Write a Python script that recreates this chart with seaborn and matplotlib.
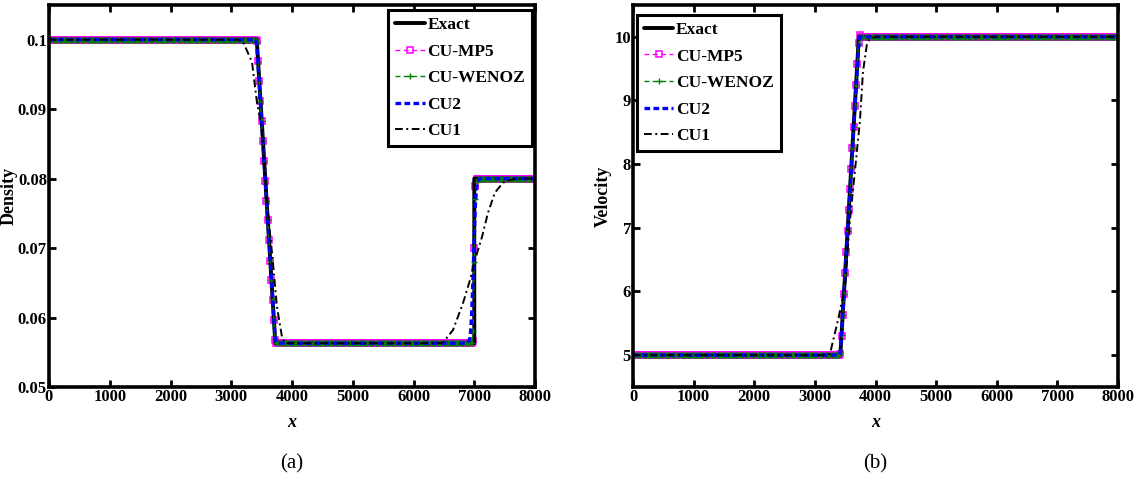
import numpy as np
import pandas as pd
import matplotlib
matplotlib.use("Agg")
import matplotlib.pyplot as plt
import seaborn as sns
from matplotlib.lines import Line2D

sns.set_style("ticks")
plt.rcParams['font.family'] = ['Liberation Serif', 'DejaVu Serif']
plt.rcParams['font.weight'] = 'bold'
for k in ['axes.edgecolor', 'xtick.color', 'ytick.color', 'text.color', 'axes.labelcolor']:
    plt.rcParams[k] = 'black'

# ---------------- data ----------------
dx = 20
x_grid = np.arange(0, 8000 + dx, dx)

# Exact solution (breakpoints)
exact_x_rho = [0, 3420, 3725, 7000, 7000, 8000]
exact_rho = [0.1, 0.1, 0.0563, 0.0563, 0.08, 0.08]
exact_x_u = [0, 3420, 3725, 8000]
exact_u = [5.0, 5.0, 10.0, 10.0]

rho_left, rho_mid, rho_right = 0.1, 0.0563, 0.08
u_left, u_right = 5.0, 10.0

# rarefaction values at x = 3420 ... 3740 (step 20)
rare_x = list(range(3420, 3741, 20))
mp5_rho_rare = [0.0998, 0.0969, 0.0940, 0.0912, 0.0883, 0.0854, 0.0826, 0.0797, 0.0768,
                0.0740, 0.0711, 0.0682, 0.0654, 0.0625, 0.0596, 0.0568, 0.0563]
wenoz_rho_rare = [0.0997, 0.0968, 0.0940, 0.0911, 0.0883, 0.0854, 0.0825, 0.0797, 0.0768,
                  0.0740, 0.0711, 0.0683, 0.0654, 0.0626, 0.0597, 0.0569, 0.0564]
cu2_rho_rare = [0.0993, 0.0966, 0.0938, 0.0910, 0.0882, 0.0854, 0.0825, 0.0797, 0.0769,
                0.0741, 0.0712, 0.0684, 0.0656, 0.0628, 0.0600, 0.0573, 0.0565]
mp5_u_rare = [5.02, 5.30, 5.63, 5.96, 6.29, 6.62, 6.95, 7.28, 7.61,
              7.93, 8.26, 8.59, 8.92, 9.25, 9.58, 9.90, 10.03]
wenoz_u_rare = [5.03, 5.31, 5.63, 5.96, 6.29, 6.62, 6.95, 7.28, 7.60,
                7.93, 8.26, 8.59, 8.91, 9.24, 9.57, 9.88, 10.0]
cu2_u_rare = [5.06, 5.33, 5.65, 5.97, 6.30, 6.62, 6.95, 7.27, 7.60,
              7.92, 8.25, 8.57, 8.89, 9.21, 9.53, 9.84, 9.99]

# contact values
mp5_contact_x = [6980, 7000, 7020, 7040]
mp5_rho_contact = [0.0566, 0.0700, 0.0790, 0.0799]
wenoz_contact_x = [6960, 6980, 7000, 7020, 7040, 7060]
wenoz_rho_contact = [0.0564, 0.0580, 0.0680, 0.0770, 0.0795, 0.0799]
cu2_contact_x = list(range(6900, 7101, 20))
cu2_rho_contact = [0.0565, 0.0568, 0.0580, 0.0610, 0.0660, 0.0720, 0.0765, 0.0788,
                   0.0796, 0.0799, 0.0800]

# CU1 (first-order) curve
cu1_x_rho = [0, 3100, 3193, 3341, 3424, 3506, 3588, 3671, 3753, 3835, 3885,
             6400, 6485, 6650, 6815, 6930, 7012, 7127, 7226, 7341, 7473, 7588, 7700, 8000]
cu1_rho = [0.1, 0.1, 0.0997, 0.0968, 0.0909, 0.0870, 0.0765, 0.0693, 0.0615, 0.0572, 0.0563,
           0.0563, 0.0564, 0.0582, 0.0621, 0.0654, 0.0683, 0.0716, 0.0751, 0.0780, 0.0794,
           0.0798, 0.0800, 0.0800]
cu1_x_u = [0, 3150, 3249, 3381, 3496, 3578, 3661, 3743, 3793, 3859, 3908, 4000, 8000]
cu1_u = [5.0, 5.0, 5.02, 5.55, 6.07, 7.12, 7.90, 8.68, 9.45, 9.89, 9.97, 10.0, 10.0]

rho_ticks = [0.05, 0.06, 0.07, 0.08, 0.09, 0.1]
rho_ticklabels = ["0.05", "0.06", "0.07", "0.08", "0.09", "0.1"]
u_ticks = [5, 6, 7, 8, 9, 10]
x_ticks = list(range(0, 8001, 1000))
names = ["Exact", "CU-MP5", "CU-WENOZ", "CU2", "CU1"]


def build_rho(rare, cx, cvals):
    v = np.full(x_grid.shape, rho_mid)
    v[x_grid <= 3400] = rho_left
    v[(x_grid >= rare_x[0]) & (x_grid <= rare_x[-1])] = rare
    v[x_grid > cx[-1]] = rho_right
    v[(x_grid >= cx[0]) & (x_grid <= cx[-1])] = cvals
    return v


def build_u(rare):
    v = np.full(x_grid.shape, u_right)
    v[x_grid <= 3400] = u_left
    v[(x_grid >= rare_x[0]) & (x_grid <= rare_x[-1])] = rare
    return v


rho_series = {
    "CU-MP5": build_rho(mp5_rho_rare, mp5_contact_x, mp5_rho_contact),
    "CU-WENOZ": build_rho(wenoz_rho_rare, wenoz_contact_x, wenoz_rho_contact),
    "CU2": build_rho(cu2_rho_rare, cu2_contact_x, cu2_rho_contact),
}
u_series = {
    "CU-MP5": build_u(mp5_u_rare),
    "CU-WENOZ": build_u(wenoz_u_rare),
    "CU2": build_u(cu2_u_rare),
}

styles = {
    "Exact": dict(color="black", linestyle="-", linewidth=2.8),
    "CU-MP5": dict(color="#ff00ff", linestyle=(0, (3.5, 2.5)), linewidth=1.0, marker="s",
                   markersize=5, markerfacecolor="none", markeredgecolor="#ff00ff",
                   markeredgewidth=1.1),
    "CU-WENOZ": dict(color="#008000", linestyle=(0, (3.5, 2.5)), linewidth=1.0, marker="+",
                     markersize=5, markeredgecolor="#008000", markeredgewidth=1.0),
    "CU2": dict(color="#0000ff", linestyle=(0, (1.7, 1.0)), linewidth=2.4),
    "CU1": dict(color="black", linestyle=(0, (4.0, 1.8, 1.0, 1.8)), linewidth=1.4),
}
zorders = {"CU-MP5": 2.0, "Exact": 2.1, "CU-WENOZ": 2.2, "CU2": 2.3, "CU1": 2.4}

fig = plt.figure(figsize=(11.42, 4.83), dpi=100)
ax1 = fig.add_axes([0.0429, 0.1988, 0.4256, 0.7909])
ax2 = fig.add_axes([0.5543, 0.1988, 0.4247, 0.7909])


def draw(ax, series, ex_x, ex_y, c1_x, c1_y, leg_loc, leg_anchor):
    for name in ["CU-MP5", "CU-WENOZ", "CU2"]:
        df = pd.DataFrame({"x": x_grid, "y": series[name]})
        sns.lineplot(data=df, x="x", y="y", ax=ax, estimator=None, sort=False,
                     zorder=zorders[name], **styles[name])
    sns.lineplot(data=pd.DataFrame({"x": c1_x, "y": c1_y}), x="x", y="y", ax=ax,
                 estimator=None, sort=False, zorder=zorders["CU1"], **styles["CU1"])
    sns.lineplot(data=pd.DataFrame({"x": ex_x, "y": ex_y}), x="x", y="y", ax=ax,
                 estimator=None, sort=False, zorder=zorders["Exact"], **styles["Exact"])
    handles = [Line2D([], [], **styles[n]) for n in names]
    leg = ax.legend(handles, names,
                    loc=leg_loc, bbox_to_anchor=leg_anchor, fancybox=False, framealpha=1,
                    edgecolor="black",
                    prop=dict(family="Liberation Serif", weight="bold", size=12.5),
                    handlelength=1.7, handletextpad=0.15, borderpad=0.4,
                    labelspacing=0.6, borderaxespad=0.0, markerscale=1.0)
    leg.get_frame().set_linewidth(2.2)
    leg.set_zorder(5)
    ax.set_xlim(0, 8000)
    ax.set_xticks(x_ticks)
    ax.set_xticklabels([str(t) for t in x_ticks])
    ax.tick_params(direction="in", top=True, right=True, length=5, width=2,
                   labelsize=12, pad=1.5)
    for lab in ax.get_xticklabels() + ax.get_yticklabels():
        lab.set_fontweight("bold")
    for s in ax.spines.values():
        s.set_linewidth(2.6)
        s.set_visible(True)
        s.set_color("black")
    ax.set_xlabel("x", fontstyle="italic", fontweight="bold", fontsize=13)
    ax.xaxis.set_label_coords(0.5, -0.072)


draw(ax1, rho_series, exact_x_rho, exact_rho, cu1_x_rho, cu1_rho,
     "upper right", (0.994, 0.987))
ax1.set_ylim(0.05, 0.105)
ax1.set_yticks(rho_ticks)
ax1.set_yticklabels(rho_ticklabels)
for lab in ax1.get_yticklabels():
    lab.set_fontweight("bold")
ax1.set_ylabel("Density", fontweight="bold", fontsize=13)
ax1.yaxis.set_label_coords(-0.064, 0.5)

draw(ax2, u_series, exact_x_u, exact_u, cu1_x_u, cu1_u,
     "upper left", (0.008, 0.974))
ax2.set_ylim(4.5, 10.5)
ax2.set_yticks(u_ticks)
ax2.set_yticklabels([str(t) for t in u_ticks])
for lab in ax2.get_yticklabels():
    lab.set_fontweight("bold")
ax2.set_ylabel("Velocity", fontweight="bold", fontsize=13)
ax2.yaxis.set_label_coords(-0.043, 0.5)

fig.text(0.2557, 0.040, "(a)", ha="center", va="center", fontsize=15,
         fontweight="normal", family="Liberation Serif")
fig.text(0.7667, 0.040, "(b)", ha="center", va="center", fontsize=15,
         fontweight="normal", family="Liberation Serif")

fig.savefig("out.png", dpi=100)
